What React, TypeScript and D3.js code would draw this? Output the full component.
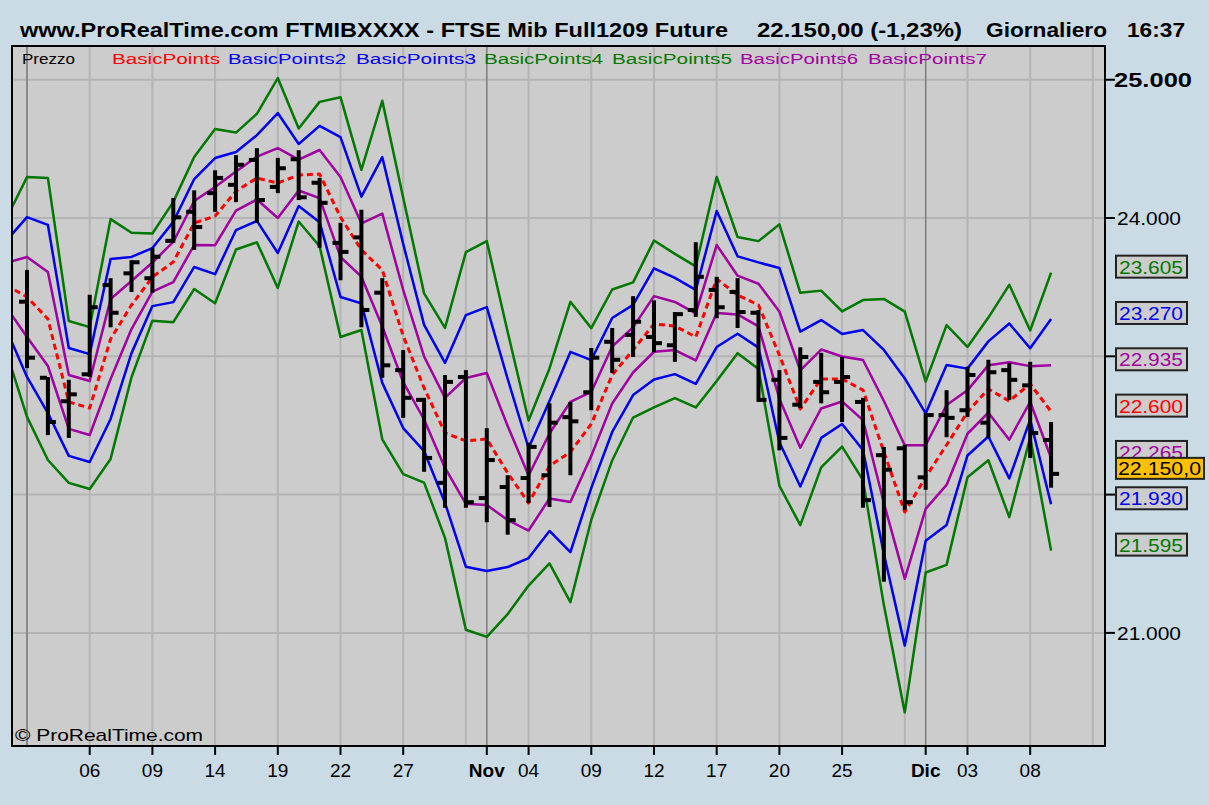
import React from "react";
import * as d3 from "d3";

// ---------- DATA ----------
const dates: string[] = [
  "2009-09-30",
  "2009-10-01","2009-10-02","2009-10-05","2009-10-06","2009-10-07","2009-10-08","2009-10-09","2009-10-12","2009-10-13","2009-10-14","2009-10-15","2009-10-16","2009-10-19","2009-10-20","2009-10-21","2009-10-22","2009-10-23","2009-10-26","2009-10-27","2009-10-28","2009-10-29","2009-10-30",
  "2009-11-02","2009-11-03","2009-11-04","2009-11-05","2009-11-06","2009-11-09","2009-11-10","2009-11-11","2009-11-12","2009-11-13","2009-11-16","2009-11-17","2009-11-18","2009-11-19","2009-11-20","2009-11-23","2009-11-24","2009-11-25","2009-11-26","2009-11-27","2009-11-30",
  "2009-12-01","2009-12-02","2009-12-03","2009-12-04","2009-12-07","2009-12-08","2009-12-09",
];

const tickDates: string[] = [
  "2009-10-06","2009-10-09","2009-10-14","2009-10-19","2009-10-22","2009-10-27",
  "2009-11-02","2009-11-04","2009-11-09","2009-11-12","2009-11-17","2009-11-20","2009-11-25",
  "2009-12-01","2009-12-03","2009-12-08",
];
const monthNames: Record<string, string> = { "10": "Ott", "11": "Nov", "12": "Dic" };

const yTicks: number[] = [21000, 22000, 23000, 24000, 25000];

// price bars (from 2009-10-01)
const opens: number[] = [23395,22845,22675,22870,23515,23600,23565,23835,24045,24180,24240,24420,24225,24425,24255,23820,23860,23460,22900,22685,22085,22850,21975,22055,22120,22140,22560,22740,23105,23155,23140,23080,23335,23480,23465,23315,22830,22650,22815,22815,22670,22285,22335,22125,22575,22610,22520,22900,22790,22395];
const highs: number[] = [23625,22850,22830,23445,23565,23695,23785,24145,24200,24345,24455,24505,24435,24490,24290,23965,24060,23565,23045,22700,22865,22900,22480,22140,22375,22660,22670,23060,23205,23435,23405,23320,23825,23575,23565,23335,22900,23065,23025,22995,22700,22345,22360,22590,22755,22925,22975,22950,22960,22525];
const lows: number[] = [22915,22430,22410,22850,23210,23465,23460,23820,23770,24045,24115,23965,24180,24130,23785,23550,23210,22845,22555,22165,21905,21905,21800,21710,21940,21910,22140,22610,22880,22995,23030,22960,23285,23275,23205,22670,22320,22625,22660,22525,21905,21370,21890,22035,22415,22560,22410,22685,22265,22050];
const closes: number[] = [22990,22525,22725,23355,23315,23680,23720,24005,23935,24290,24385,24130,24360,24150,24110,23755,23335,22935,22700,22265,22815,21945,22250,21815,22345,22520,22530,22990,22975,23250,23095,23305,23575,23355,23320,22685,22410,22995,22740,22850,21960,22180,21945,22575,22555,22865,22885,22830,22445,22150];

// indicator lines (from 2009-09-30)
const basicPoints: number[] = [23516,23429,23270,22670,22626,23125,23371,23573,23682,23964,24014,24195,24289,24253,24311,24318,24007,23769,23624,23147,22771,22446,22388,22402,22156,21939,22207,22308,22511,22865,23046,23234,23219,23140,23559,23443,23371,23009,22619,22836,22836,22756,22308,21874,22127,22359,22597,22764,22677,22800,22600];
const basicPoints2: number[] = [23834,24007,23950,23060,23016,23703,23719,23783,23972,24282,24434,24477,24599,24759,24535,24666,24585,24155,24440,23813,23227,22952,23298,23356,22836,22337,22677,23032,22973,23277,23372,23636,23567,23480,24051,23723,23679,23639,23179,23262,23162,23190,23046,22840,22587,22937,22911,23108,23237,23058,23270];
const basicPoints3: number[] = [23198,22851,22590,22280,22236,22547,23023,23363,23392,23646,23594,23913,23979,23747,24087,23970,23429,23383,22808,22481,22315,21940,21478,21448,21476,21541,21737,21584,22049,22453,22720,22832,22871,22800,23067,23163,23063,22379,22059,22410,22510,22322,21570,20908,21667,21781,22283,22420,22117,22542,21930];
const basicPoints4: number[] = [23993,24296,24290,23255,23211,23992,23893,23888,24117,24441,24644,24618,24754,25012,24647,24840,24874,24348,24848,24146,23455,23205,23753,23833,23176,22536,22912,23394,23204,23483,23535,23837,23741,23650,24297,23863,23833,23954,23459,23475,23325,23407,23415,23323,22817,23226,23068,23280,23517,23187,23605];
const basicPoints5: number[] = [23039,22562,22250,22085,22041,22258,22849,23258,23247,23487,23384,23772,23824,23494,23975,23796,23140,23190,22400,22148,22087,21687,21023,20971,21136,21342,21502,21222,21818,22247,22557,22631,22697,22630,22821,23023,22909,22064,21779,22197,22347,22105,21201,20425,21437,21492,22126,22248,21837,22413,21595];
const basicPoints6: number[] = [23675,23718,23610,22865,22821,23414,23545,23678,23827,24123,24224,24336,24444,24506,24423,24492,24296,23962,24032,23480,22999,22699,22843,22879,22496,22138,22442,22670,22742,23071,23209,23435,23393,23310,23805,23583,23525,23324,22899,23049,22999,22973,22677,22357,22357,22648,22754,22936,22957,22929,22935];
const basicPoints7: number[] = [23357,23140,22930,22475,22431,22836,23197,23468,23537,23805,23804,24054,24134,24000,24199,24144,23718,23576,23216,22814,22543,22193,21933,21925,21816,21740,21972,21946,22280,22659,22883,23033,23045,22970,23313,23303,23217,22694,22339,22623,22673,22539,21939,21391,21897,22070,22440,22592,22397,22671,22265];

const lastPrice = 22150;
const titleParts: string[] = [
  "www.ProRealTime.com FTMIBXXXX - FTSE Mib Full1209 Future",
  "22.150,00 (-1,23%)",
  "Giornaliero",
  "16:37",
];

// ---------- STYLE ----------
const RED = "#ff0000";
const BLUE = "#0000f0";
const GREEN = "#007800";
const PURPLE = "#a000a0";
const FONT = "'Liberation Sans', Arial, sans-serif";

const series = [
  { name: "BasicPoints", values: basicPoints, color: RED, dashed: true },
  { name: "BasicPoints2", values: basicPoints2, color: BLUE, dashed: false },
  { name: "BasicPoints3", values: basicPoints3, color: BLUE, dashed: false },
  { name: "BasicPoints4", values: basicPoints4, color: GREEN, dashed: false },
  { name: "BasicPoints5", values: basicPoints5, color: GREEN, dashed: false },
  { name: "BasicPoints6", values: basicPoints6, color: PURPLE, dashed: false },
  { name: "BasicPoints7", values: basicPoints7, color: PURPLE, dashed: false },
];

const itFmt = d3.formatLocale({ decimal: ",", thousands: ".", grouping: [3], currency: ["", "€"] });
const fmtInt = itFmt.format(",.0f");
const fmtPrice = itFmt.format(",.1f");

export default function App() {
  const W = 1209, H = 805;
  const P = { left: 12, right: 1105, top: 46, bottom: 746 };
  const x = d3.scaleLinear().domain([0.282, 52.58]).range([P.left, P.right]);
  const y = d3.scaleLinear().domain([20182, 25244]).range([P.bottom, P.top]);

  const line = d3.line<number>().x((_, k) => x(k)).y((v) => y(v));

  const gridKs = d3.range(1, 53, 3);
  const monthKs = dates
    .map((d, k) => (k > 0 && d.slice(5, 7) !== dates[k - 1].slice(5, 7) ? k : -1))
    .filter((k) => k >= 0);

  const ticks = tickDates.map((d) => {
    const k = dates.indexOf(d);
    const isMonth = monthKs.includes(k);
    return { k, label: isMonth ? monthNames[d.slice(5, 7)] : d.slice(8, 10), bold: isMonth };
  });

  const boxes = series
    .map((s) => ({ v: s.values[s.values.length - 1], color: s.color }))
    .sort((a, b) => b.v - a.v);

  const legendX = [112, 228, 356, 484, 612, 740, 868];
  const legendW = [108, 118, 120, 119, 120, 118, 119];

  return (
    <svg width={W} height={H} style={{ position: "absolute", left: 0, top: 0 }} fontFamily={FONT}>
      <rect x={0} y={0} width={W} height={H} fill="#cadbe5" />
      <defs>
        <clipPath id="plotClip">
          <rect x={P.left} y={P.top} width={P.right - P.left} height={P.bottom - P.top} />
        </clipPath>
      </defs>

      {/* title */}
      <g fontWeight="bold" fontSize={21} fill="#000">
        <text x={20} y={37} textLength={708} lengthAdjust="spacingAndGlyphs">{titleParts[0]}</text>
        <text x={757} y={37} textLength={205} lengthAdjust="spacingAndGlyphs">{titleParts[1]}</text>
        <text x={986} y={37} textLength={121} lengthAdjust="spacingAndGlyphs">{titleParts[2]}</text>
        <text x={1127} y={37} textLength={58} lengthAdjust="spacingAndGlyphs">{titleParts[3]}</text>
      </g>

      {/* plot background */}
      <rect x={P.left} y={P.top} width={P.right - P.left} height={P.bottom - P.top} fill="#cccccc" />

      <g clipPath="url(#plotClip)">
        {yTicks.map((t) => (
          <line key={"h" + t} x1={P.left} x2={P.right} y1={y(t)} y2={y(t)} stroke="#b4b4b4" strokeWidth={2} />
        ))}
        {gridKs.map((k) => (
          <line key={"v" + k} x1={x(k)} x2={x(k)} y1={P.top} y2={P.bottom} stroke="#b4b4b4" strokeWidth={2} />
        ))}
        {monthKs.map((k) => (
          <line key={"m" + k} x1={x(k)} x2={x(k)} y1={P.top} y2={P.bottom} stroke="#7c7c7c" strokeWidth={1.5} />
        ))}

        {series.map((s) => (
          <path
            key={s.name}
            d={line(s.values) || ""}
            fill="none"
            stroke={s.color}
            strokeWidth={s.dashed ? 3 : 2.5}
            strokeDasharray={s.dashed ? "6 4" : undefined}
            strokeLinejoin="round"
          />
        ))}

        {opens.map((o, j) => {
          const k = j + 1;
          const cx = x(k);
          return (
            <g key={"b" + j} fill="#000">
              <rect x={cx - 2} y={y(highs[j])} width={4} height={y(lows[j]) - y(highs[j])} />
              <rect x={cx - 8} y={y(o) - 2} width={7} height={4} />
              <rect x={cx + 1} y={y(closes[j]) - 2} width={7} height={4} />
            </g>
          );
        })}
      </g>

      {/* legend */}
      <text x={22} y={64} fontSize={14} fill="#000" textLength={53} lengthAdjust="spacingAndGlyphs">Prezzo</text>
      {series.map((s, i) => (
        <text key={"lg" + i} x={legendX[i]} y={64} fontSize={14} fill={s.color} textLength={legendW[i]} lengthAdjust="spacingAndGlyphs">
          {s.name}
        </text>
      ))}

      <text x={15} y={741} fontSize={17} fill="#000" textLength={188} lengthAdjust="spacingAndGlyphs">© ProRealTime.com</text>

      <rect x={P.left} y={P.top} width={P.right - P.left} height={P.bottom - P.top} fill="none" stroke="#000" strokeWidth={2} />

      {/* right axis */}
      {yTicks.map((t) => (
        <g key={"yt" + t}>
          <line x1={P.right} x2={P.right + 10} y1={y(t)} y2={y(t)} stroke="#000" strokeWidth={2} />
          <text
            x={t === 25000 ? 1114 : 1117}
            y={y(t) + 7}
            fontSize={t === 25000 ? 20 : 18}
            fontWeight={t === 25000 ? "bold" : "normal"}
            fill="#000"
            textLength={t === 25000 ? 78 : 64}
            lengthAdjust="spacingAndGlyphs"
          >
            {fmtInt(t)}
          </text>
        </g>
      ))}

      {/* last value boxes */}
      {boxes.map((b, i) => (
        <g key={"bx" + i}>
          <rect x={1116} y={y(b.v) - 17} width={71} height={22} fill="#cccccc" stroke="#222" strokeWidth={2} />
          <text x={1119} y={y(b.v) + 1} fontSize={18} fill={b.color} textLength={64} lengthAdjust="spacingAndGlyphs">
            {fmtInt(b.v)}
          </text>
        </g>
      ))}
      <rect x={1116} y={y(lastPrice) - 16} width={88} height={21} fill="#ffc000" stroke="#222" strokeWidth={2} />
      <text x={1118} y={y(lastPrice) + 1} fontSize={18} fill="#000" textLength={83} lengthAdjust="spacingAndGlyphs">
        {fmtPrice(lastPrice)}
      </text>

      {/* bottom axis */}
      {ticks.map((t) => (
        <g key={"xt" + t.k}>
          <line x1={x(t.k)} x2={x(t.k)} y1={P.bottom} y2={P.bottom + 9} stroke="#000" strokeWidth={2} />
          <text x={x(t.k)} y={777} fontSize={19} fontWeight={t.bold ? "bold" : "normal"} textAnchor="middle" fill="#000">
            {t.label}
          </text>
        </g>
      ))}
    </svg>
  );
}
